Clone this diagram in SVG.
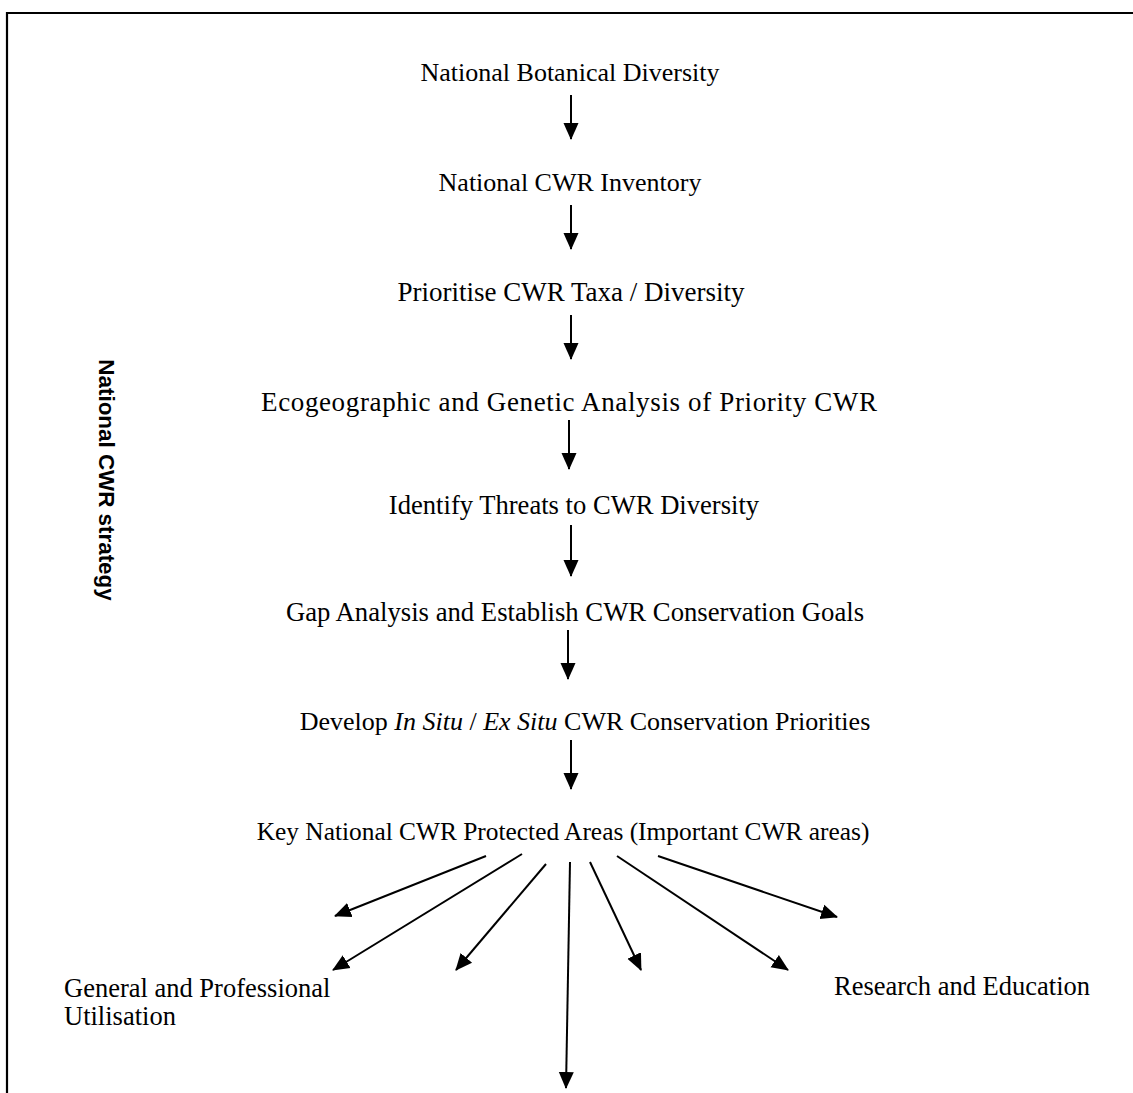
<svg xmlns="http://www.w3.org/2000/svg" width="1133" height="1093" viewBox="0 0 1133 1093">
<style>
.t{font-family:"Liberation Serif","Times New Roman",serif;font-size:26px;fill:#000;text-anchor:middle}
.tl{font-family:"Liberation Serif","Times New Roman",serif;font-size:26.5px;fill:#000}
.side{font-family:"Liberation Sans",Arial,sans-serif;font-size:22.4px;font-weight:bold;fill:#000;text-anchor:middle}
.c{stroke:#000;stroke-width:2;fill:none;marker-end:url(#ah)}
</style>
<defs>
<marker id="ah" markerUnits="userSpaceOnUse" markerWidth="17" markerHeight="17" viewBox="0 0 17 17" refX="16" refY="8.5" orient="auto">
<path d="M0,1 L17,8.5 L0,16 Z" fill="#000"/>
</marker>
</defs>
<rect width="1133" height="1093" fill="#fff"/>
<path d="M7,1093 V13 H1133" fill="none" stroke="#000" stroke-width="2.2"/>
<g id="side"><text class="side" transform="translate(99,480) rotate(90)">National CWR strategy</text></g>
<g id="n1"><text class="t" x="570" y="81">National Botanical Diversity</text></g>
<g id="n2"><text class="t" x="570" y="191">National CWR Inventory</text></g>
<g id="n3"><text class="t" x="571" y="301" style="font-size:27px">Prioritise CWR Taxa / Diversity</text></g>
<g id="n4"><text class="t" x="569" y="411" style="font-size:27px" textLength="616" lengthAdjust="spacing">Ecogeographic and Genetic Analysis of Priority CWR</text></g>
<g id="n5"><text class="t" x="574" y="514" style="font-size:26.6px">Identify Threats to CWR Diversity</text></g>
<g id="n6"><text class="t" x="575" y="621" style="font-size:26.7px">Gap Analysis and Establish CWR Conservation Goals</text></g>
<g id="n7"><text class="t" x="585" y="730">Develop <tspan font-style="italic">In Situ</tspan> / <tspan font-style="italic">Ex Situ</tspan> CWR Conservation Priorities</text></g>
<g id="n8"><text class="t" x="563" y="840" style="font-size:25.4px">Key National CWR Protected Areas (Important CWR areas)</text></g>
<g id="n9"><text class="tl" x="64" y="997">General and Professional</text><text class="tl" x="64" y="1025">Utilisation</text></g>
<g id="n10"><text class="tl" x="834" y="995">Research and Education</text></g>
<g id="connectors">
<path class="c" d="M571,95 V139"/>
<path class="c" d="M571,205 V249"/>
<path class="c" d="M571,315 V359"/>
<path class="c" d="M569,420 V469"/>
<path class="c" d="M571,525 V576"/>
<path class="c" d="M568,630 V679"/>
<path class="c" d="M571,740 V789"/>
<path class="c" d="M486,856 L335,916"/>
<path class="c" d="M522,854 L333,970"/>
<path class="c" d="M546,864 L456,970"/>
<path class="c" d="M570,862 L566,1088"/>
<path class="c" d="M590,862 L641,970"/>
<path class="c" d="M617,856 L788,970"/>
<path class="c" d="M658,856 L837,917"/>
</g>
</svg>
